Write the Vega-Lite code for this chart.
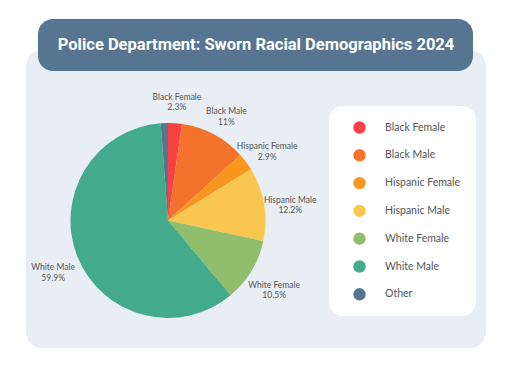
{
  "$schema": "https://vega.github.io/schema/vega-lite/v6.json",
  "width": 460,
  "height": 298,
  "autosize": {"type": "none"},
  "padding": {"left": 26, "top": 50, "right": 26, "bottom": 36},
  "background": "white",
  "config": {
    "view": {"fill": "#E9EEF5", "stroke": null, "cornerRadius": 16},
    "font": "Lato"
  },
  "title": {
    "text": "Police Department: Sworn Racial Demographics 2024",
    "color": "white",
    "fontSize": 16.5,
    "fontWeight": "bold",
    "font": "Roboto",
    "anchor": "middle",
    "frame": "group",
    "baseline": "middle",
    "offset": 5,
    "dy": 47
  },
  "data": {
    "values": [
      {"group": "Black Female", "value": 2.3, "k": 1},
      {"group": "Black Male", "value": 11, "k": 2},
      {"group": "Hispanic Female", "value": 2.9, "k": 3},
      {"group": "Hispanic Male", "value": 12.2, "k": 4},
      {"group": "White Female", "value": 10.5, "k": 5},
      {"group": "White Male", "value": 59.9, "k": 6},
      {"group": "Other", "value": 1.2, "k": 7}
    ]
  },
  "layer": [
    {
      "data": {"values": [{}]},
      "mark": {"type": "rect", "cornerRadius": 15, "color": "#577590"},
      "encoding": {
        "x": {"value": 12},
        "x2": {"value": 447},
        "y": {"value": -31},
        "y2": {"value": 21}
      }
    },
    {
      "mark": {"type": "arc", "outerRadius": 97.5},
      "encoding": {
        "theta": {"field": "value", "type": "quantitative", "stack": true},
        "order": {"field": "k", "type": "quantitative"},
        "x": {"value": 142},
        "y": {"value": 170.5},
        "color": {
          "field": "group",
          "type": "nominal",
          "sort": ["Black Female", "Black Male", "Hispanic Female", "Hispanic Male", "White Female", "White Male", "Other"],
          "scale": {
            "domain": ["Black Female", "Black Male", "Hispanic Female", "Hispanic Male", "White Female", "White Male", "Other"],
            "range": ["#F94144", "#F3722C", "#F8961E", "#F9C74F", "#90BE6D", "#43AA8B", "#577590"]
          },
          "legend": {
            "orient": "none",
            "legendX": 303,
            "legendY": 56,
            "title": null,
            "symbolType": "circle",
            "symbolSize": 154,
            "symbolStrokeWidth": 0,
            "symbolOpacity": 1,
            "symbolOffset": 9,
            "labelFontSize": 10.5,
            "labelFont": "Lato",
            "labelColor": "#555555",
            "labelOffset": 19,
            "rowPadding": 14.8,
            "fillColor": "white",
            "cornerRadius": 14,
            "padding": 15
          }
        }
      }
    },
    {
      "transform": [
        {"filter": "datum.value > 2"},
        {"calculate": "[datum.group, datum.value + '%']", "as": "label"}
      ],
      "mark": {"type": "text", "radius": 124, "fontSize": 8.5, "color": "#555555", "lineHeight": 10.5, "font": "Lato"},
      "encoding": {
        "theta": {"field": "value", "type": "quantitative", "stack": true},
        "order": {"field": "k", "type": "quantitative"},
        "x": {"value": 142},
        "y": {"value": 170.5},
        "text": {"field": "label"}
      }
    }
  ]
}
